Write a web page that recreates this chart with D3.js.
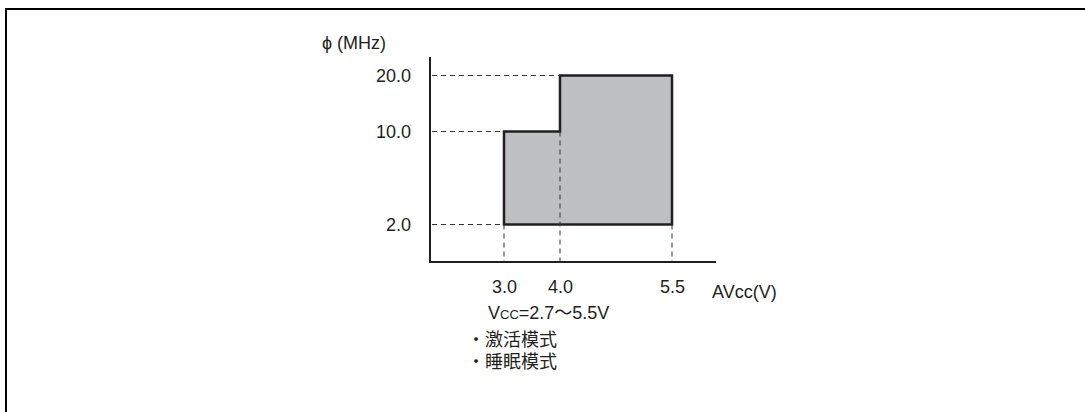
<!DOCTYPE html>
<html>
<head>
<meta charset="utf-8">
<script src="https://cdn.jsdelivr.net/npm/d3@7"></script>
<style>
    body { margin: 0; background: #fff; overflow: hidden; }
    svg { display: block; }
    .label { font-family: "Liberation Sans", Arial, sans-serif; fill: #231f20; }
    .cjk { font-family: "Liberation Sans", "Noto Sans CJK SC", sans-serif; fill: #231f20; }
</style>
</head>
<body>
<script>
(function(){

    // operating range outline, (AVcc V, phi MHz)
    var voltages = [3.0, 3.0, 4.0, 4.0, 5.5, 5.5];
    var freqs = [2.0, 10.0, 10.0, 20.0, 20.0, 2.0];

    var xTicks = [3.0, 4.0, 5.5];
    var yTicks = [2.0, 10.0, 20.0];

    var yLabel = "ϕ (MHz)";
    var xLabel = "AVcc(V)";
    var noteLines = ["・激活模式", "・睡眠模式"];

    window.onload = setChart();

    function setChart(){
        var width = 1085,
            height = 412;

        var svg = d3.select("body")
            .append("svg")
            .attr("width", width)
            .attr("height", height)
            .style("overflow", "hidden");

        // frame, only top and left edges show
        svg.append("path")
            .attr("d", "M6," + height + "V9H" + width)
            .attr("fill", "none")
            .attr("stroke", "#000")
            .attr("stroke-width", 2);

        var axisX = 430,
            axisY = 262,
            axisTop = 57,
            axisRight = 716;

        // the drawing is not to scale, so piecewise scales
        var x = d3.scaleLinear()
            .domain([3.0, 4.0, 5.5])
            .range([504, 560, 672]);

        var y = d3.scaleLinear()
            .domain([2.0, 10.0, 20.0])
            .range([224.5, 131.5, 75.5]);

        var pts = voltages.map(function(v, i){
            return [x(v), y(freqs[i])];
        });

        svg.append("path")
            .attr("d", d3.line()(pts) + "Z")
            .attr("fill", "#bebfc2")
            .attr("stroke", "#231f20")
            .attr("stroke-width", 2.5)
            .attr("stroke-linejoin", "miter");

        // dashed guides
        var guides = svg.append("g")
            .attr("stroke", "#333")
            .attr("stroke-width", 1)
            .attr("stroke-dasharray", "5,4");

        // horizontal: axis to the left edge of the area at that level
        yTicks.forEach(function(f){
            var vs = voltages.filter(function(v, i){ return freqs[i] == f; });
            guides.append("line")
                .attr("x1", axisX + 2)
                .attr("x2", x(d3.min(vs)))
                .attr("y1", y(f))
                .attr("y2", y(f));
        });

        // vertical: from the lowest boundary under each tick down to the axis
        xTicks.forEach(function(v){
            var fs = freqs.filter(function(f, i){ return voltages[i] == v; });
            var top = (v == 4.0) ? d3.min(fs) : d3.min(freqs);
            guides.append("line")
                .attr("x1", x(v))
                .attr("x2", x(v))
                .attr("y1", y(top))
                .attr("y2", axisY - 1);
        });

        // axis lines
        svg.append("path")
            .attr("d", "M" + axisX + "," + axisTop + "V" + axisY + "H" + axisRight)
            .attr("fill", "none")
            .attr("stroke", "#231f20")
            .attr("stroke-width", 2);

        var yAxis = svg.append("g")
            .attr("transform", "translate(" + axisX + ",0)")
            .call(d3.axisLeft(y).tickValues(yTicks).tickSize(0).tickPadding(19).tickFormat(d3.format(".1f")));
        yAxis.select(".domain").remove();

        var xAxis = svg.append("g")
            .attr("transform", "translate(0," + axisY + ")")
            .call(d3.axisBottom(x).tickValues(xTicks).tickSize(0).tickPadding(18.5).tickFormat(d3.format(".1f")));
        xAxis.select(".domain").remove();

        svg.selectAll(".tick text")
            .attr("font-family", "Liberation Sans, Arial, sans-serif")
            .attr("font-size", 18)
            .attr("fill", "#231f20");

        svg.append("text")
            .attr("class", "label")
            .attr("x", 322)
            .attr("y", 49)
            .attr("font-size", 18)
            .text(yLabel);

        svg.append("text")
            .attr("class", "label")
            .attr("x", 712)
            .attr("y", 298)
            .attr("font-size", 18)
            .text(xLabel);

        // supply note
        var vcc = svg.append("text")
            .attr("class", "label")
            .attr("x", 488)
            .attr("y", 319)
            .attr("font-size", 18);
        vcc.append("tspan").text("V");
        vcc.append("tspan").attr("font-size", 13).text("CC");
        vcc.append("tspan").text("=2.7");
        vcc.append("tspan").attr("class", "cjk").text("～");
        vcc.append("tspan").text("5.5V");

        svg.selectAll(".note")
            .data(noteLines)
            .enter()
            .append("text")
            .attr("class", "note cjk")
            .attr("x", 467)
            .attr("y", function(d, i){ return 346 + i * 22; })
            .attr("font-size", 18)
            .text(function(d){ return d; });
    };

})();
</script>
</body>
</html>
